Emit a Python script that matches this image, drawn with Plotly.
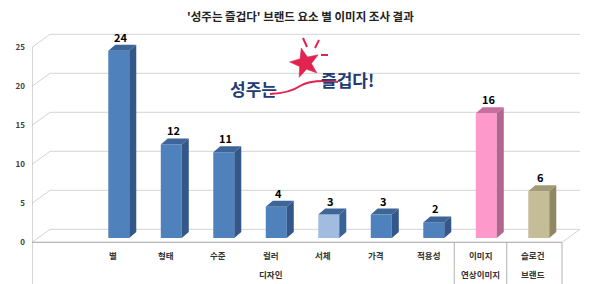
import math
import plotly.graph_objects as go

# ---------------- data ----------------
categories = ["별", "형태", "수준", "컬러", "서체", "가격", "적용성", "이미지", "슬로건"]
values = [24, 12, 11, 4, 3, 3, 2, 16, 6]
groups = ["디자인", "연상이미지", "브랜드"]
group_first = [0, 7, 8]
group_last = [6, 7, 8]
y_ticks = [0, 5, 10, 15, 20, 25]
title = "'성주는 즐겁다' 브랜드 요소 별 이미지 조사 결과"

# ---------------- styles ----------------
front_colors = ["#4F81BD", "#4F81BD", "#4F81BD", "#4F81BD", "#A2BCE0",
                "#4F81BD", "#4F81BD", "#FF99CC", "#C4BD97"]
top_colors = ["#3E6598", "#3E6598", "#3E6598", "#3E6598", "#3E6598",
              "#3E6598", "#3E6598", "#C86E9E", "#A29B77"]
side_colors = ["#34578A", "#34578A", "#34578A", "#34578A", "#3A6296",
               "#34578A", "#34578A", "#B0668E", "#8F8862"]
FONT = "Noto Sans CJK KR, Noto Sans, sans-serif"
GRID = "#D4D4D4"
AXIS = "#B0B0B0"

W, H = 600, 284
ML, MR, MT, MB = 32, 20, 30, 0
SLOT = 52.5      # px per category
X0PX = 113.0     # px of category 0 label
Y0PX = 242.3     # px of value 0 on front axis
UNIT = 7.8       # px per value unit

xmin = (ML - X0PX) / SLOT
xmax = (W - MR - X0PX) / SLOT
ymin = (Y0PX - (H - MB)) / UNIT
ymax = (Y0PX - MT) / UNIT

DXW, DYW = 18 / SLOT, 13 / UNIT   # wall depth
DXB, DYB = 7 / SLOT, 6 / UNIT     # bar depth
BOFF = 0.11                       # bar shift from label
BW = 0.40
BASE = 0.55
x_front_right = (562 - X0PX) / SLOT


def PX(px):
    return (px - ML) / (W - ML - MR)


def PY(py):
    return (H - MB - py) / (H - MT - MB)


fig = go.Figure()

# ---------------- frame (walls, grid) ----------------
shapes = []
for v in y_ticks:
    if v == 0:
        continue
    shapes.append(dict(type="path", xref="x", yref="y", layer="below",
                       path=f"M{xmin},{v} L{xmin+DXW},{v+DYW} L{xmax},{v+DYW}",
                       line=dict(color=GRID, width=1)))
# floor
shapes.append(dict(type="path", xref="x", yref="y", layer="below",
                   path=f"M{xmin},0 L{xmin+DXW},{DYW} L{xmax},{DYW} "
                        f"L{x_front_right},0 Z",
                   line=dict(color=GRID, width=1), fillcolor="rgba(0,0,0,0)"))
shapes.append(dict(type="line", xref="x", yref="y", layer="below",
                   x0=xmin, x1=x_front_right, y0=0, y1=0,
                   line=dict(color=AXIS, width=1)))
# front vertical axis line
shapes.append(dict(type="line", xref="x", yref="y", layer="below",
                   x0=xmin, x1=xmin, y0=y_ticks[-1], y1=ymin,
                   line=dict(color=AXIS, width=1)))
# group separators
for g in range(len(groups)):
    xs = group_last[g] + 0.5 if g < len(groups) - 1 else x_front_right
    shapes.append(dict(type="line", xref="x", yref="y", layer="below",
                       x0=xs, x1=xs, y0=0, y1=ymin,
                       line=dict(color=AXIS, width=1)))

# white backdrop of the logo picture (hides the gridline behind it)
shapes.append(dict(type="rect", xref="paper", yref="paper", layer="below",
                   x0=PX(223), x1=PX(382), y0=PY(106), y1=PY(37),
                   fillcolor="white", line=dict(width=0)))

# ---------------- bars ----------------
bx = [i + BOFF for i in range(len(values))]
fig.add_trace(go.Bar(x=bx, y=values, base=BASE, width=BW,
                     marker=dict(color=front_colors, line=dict(width=0)),
                     hoverinfo="skip", showlegend=False))

for i, v in enumerate(values):
    x0 = bx[i] - BW / 2
    x1 = bx[i] + BW / 2
    top = BASE + v
    # top face
    fig.add_trace(go.Scatter(
        x=[x0, x1, x1 + DXB, x0 + DXB, x0],
        y=[top, top, top + DYB, top + DYB, top],
        mode="lines", fill="toself", fillcolor=top_colors[i],
        line=dict(width=0, color=top_colors[i]), hoverinfo="skip", showlegend=False))
    # side face
    fig.add_trace(go.Scatter(
        x=[x1, x1, x1 + DXB, x1 + DXB, x1],
        y=[BASE, top, top + DYB, BASE + DYB, BASE],
        mode="lines", fill="toself", fillcolor=side_colors[i],
        line=dict(width=0, color=side_colors[i]), hoverinfo="skip", showlegend=False))

# ---------------- annotations ----------------
ann = []
for i, v in enumerate(values):
    ann.append(dict(x=bx[i] + DXB / 2 - 0.03, y=BASE + v + DYB, xref="x", yref="y",
                    text=str(v), showarrow=False, yanchor="bottom", yshift=-2,
                    font=dict(family=FONT, size=11, color="#000000", weight="bold")))
    ann.append(dict(x=i, y=(Y0PX - 254.5) / UNIT, xref="x", yref="y",
                    text=categories[i], showarrow=False, yanchor="middle",
                    font=dict(family=FONT, size=8.5, color="#333333", weight="bold")))
for g, name in enumerate(groups):
    cx = (group_first[g] + group_last[g]) / 2
    ann.append(dict(x=cx, y=(Y0PX - 273.5) / UNIT, xref="x", yref="y",
                    text=name, showarrow=False, yanchor="middle",
                    font=dict(family=FONT, size=8.5, color="#333333", weight="bold")))

# title
ann.append(dict(x=PX(300), y=PY(16), xref="paper", yref="paper", text=title,
                showarrow=False, xanchor="center", yanchor="middle",
                font=dict(family=FONT, size=11.5, color="#222222", weight="bold")))

# logo
NAVY = "#223B73"
RED = "#E3234F"
ann.append(dict(x=PX(253), y=PY(88), xref="paper", yref="paper", text="성주는",
                showarrow=False, xanchor="center", yanchor="middle",
                font=dict(family=FONT, size=17, color=NAVY, weight="bold")))
ann.append(dict(x=PX(347), y=PY(79), xref="paper", yref="paper", text="즐겁다!",
                showarrow=False, xanchor="center", yanchor="middle",
                font=dict(family=FONT, size=17, color=NAVY, weight="bold")))

# star polygon (decoration)
scx, scy, r_out, r_in, rot = 305.0, 63.0, 15.5, 6.5, -14.0
pts = []
for k in range(10):
    r = r_out if k % 2 == 0 else r_in
    ang = math.radians(-90 + rot + k * 36)
    pts.append((scx + r * math.cos(ang), scy + r * math.sin(ang)))
star_path = "M" + " L".join(f"{PX(px)},{PY(py)}" for px, py in pts) + " Z"
shapes.append(dict(type="path", xref="paper", yref="paper", path=star_path,
                   fillcolor=RED, line=dict(color=RED, width=0.5)))

logo_lines = [((303, 38), (307, 47)), ((319, 40), (315, 48)), ((321, 55), (328, 55))]
for (a, b) in logo_lines:
    shapes.append(dict(type="line", xref="paper", yref="paper",
                       x0=PX(a[0]), y0=PY(a[1]), x1=PX(b[0]), y1=PY(b[1]),
                       line=dict(color=RED, width=2)))
sw = (f"M{PX(270)},{PY(94)} Q{PX(290)},{PY(93)} {PX(300)},{PY(86)} "
      f"Q{PX(312)},{PY(79)} {PX(338)},{PY(82)}")
shapes.append(dict(type="path", xref="paper", yref="paper", path=sw,
                   line=dict(color=RED, width=2)))

fig.update_layout(
    width=W, height=H,
    margin=dict(l=ML, r=MR, t=MT, b=MB),
    paper_bgcolor="white", plot_bgcolor="white",
    shapes=shapes, annotations=ann,
    xaxis=dict(range=[xmin, xmax], visible=False, fixedrange=True),
    yaxis=dict(range=[ymin, ymax], tickvals=y_ticks, showgrid=False, zeroline=False,
               showline=False, ticks="", ticklabelstandoff=6,
               tickfont=dict(family=FONT, size=8, color="#404040", weight="bold"),
               fixedrange=True),
    showlegend=False,
)

fig.write_html("out.html")
